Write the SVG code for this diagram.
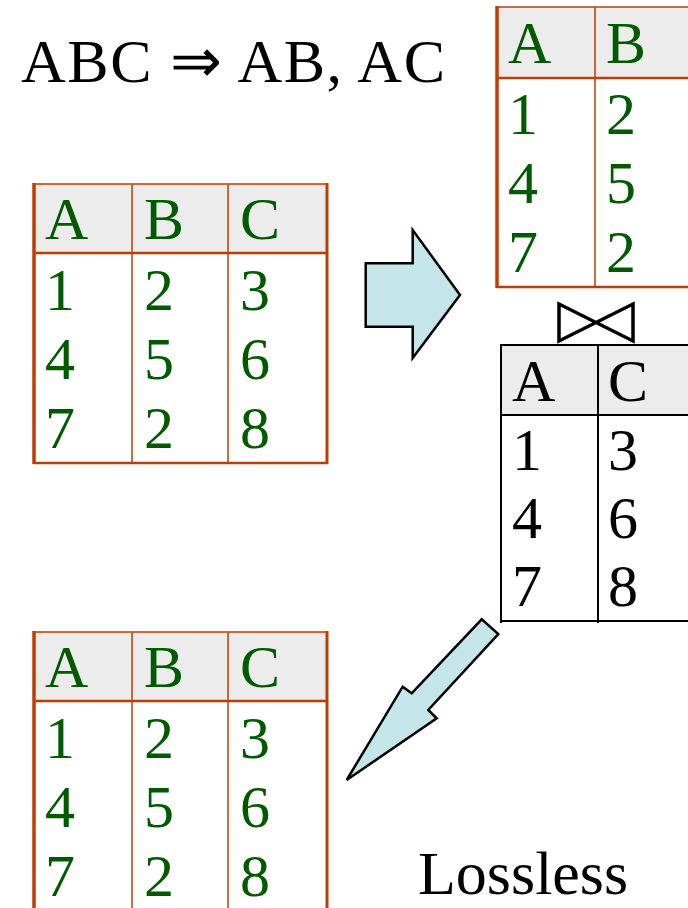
<svg xmlns="http://www.w3.org/2000/svg" width="688" height="908" viewBox="0 0 688 908">
<style>
  .t { font-family: "Liberation Serif", "Times New Roman", serif; }
  .g { fill: #005a00; font-size: 60px; }
  .k { fill: #000000; font-size: 60px; }
  .big { fill: #000000; font-size: 62px; }
  .hdr { fill: #ececec; stroke: none; }
  .ob { stroke: #c03c00; fill: none; }
  .bl { stroke: #000000; fill: none; }
  .arrow { fill: #c4e6e8; stroke: #000000; stroke-width: 2.5; stroke-linejoin: miter; }
</style>
<rect width="688" height="908" fill="#ffffff"/>

<g id="title">
  <text class="t big" x="21" y="82" textLength="424" lengthAdjust="spacing">ABC ⇒ AB, AC</text>
</g>

<g id="table-abc">
  <rect class="hdr" x="34" y="184" width="294" height="69"/>
  <line class="ob" x1="34" y1="184" x2="328" y2="184" stroke-width="1.5"/>
  <line class="ob" x1="34" y1="253" x2="328" y2="253" stroke-width="2.5"/>
  <line class="ob" x1="34" y1="463" x2="328" y2="463" stroke-width="2.5"/>
  <line class="ob" x1="34" y1="183" x2="34" y2="464" stroke-width="3.5"/>
  <line class="ob" x1="327" y1="183" x2="327" y2="464" stroke-width="3"/>
  <line class="ob" x1="132" y1="184" x2="132" y2="463" stroke-width="1.5"/>
  <line class="ob" x1="228" y1="184" x2="228" y2="463" stroke-width="1.5"/>
  <text class="t g" x="45" y="239">A</text>
  <text class="t g" x="144" y="239">B</text>
  <text class="t g" x="240" y="239">C</text>
  <text class="t g" x="45" y="310">1</text>
  <text class="t g" x="144" y="310">2</text>
  <text class="t g" x="240" y="310">3</text>
  <text class="t g" x="45" y="379">4</text>
  <text class="t g" x="144" y="379">5</text>
  <text class="t g" x="240" y="379">6</text>
  <text class="t g" x="45" y="448">7</text>
  <text class="t g" x="144" y="448">2</text>
  <text class="t g" x="240" y="448">8</text>
</g>

<g id="table-ab">
  <rect class="hdr" x="497" y="7" width="191" height="71"/>
  <line class="ob" x1="497" y1="7" x2="688" y2="7" stroke-width="1.5"/>
  <line class="ob" x1="497" y1="78" x2="688" y2="78" stroke-width="2.5"/>
  <line class="ob" x1="497" y1="287" x2="688" y2="287" stroke-width="2.5"/>
  <line class="ob" x1="497" y1="6" x2="497" y2="288" stroke-width="3.5"/>
  <line class="ob" x1="595" y1="7" x2="595" y2="287" stroke-width="1.5"/>
  <text class="t g" x="508" y="63">A</text>
  <text class="t g" x="606" y="63">B</text>
  <text class="t g" x="508" y="134">1</text>
  <text class="t g" x="606" y="134">2</text>
  <text class="t g" x="508" y="203">4</text>
  <text class="t g" x="606" y="203">5</text>
  <text class="t g" x="508" y="272">7</text>
  <text class="t g" x="606" y="272">2</text>
</g>

<g id="join">
  <path d="M559,304 L633,341 L633,304 L559,341 Z" fill="none" stroke="#000000" stroke-width="3.5" stroke-linejoin="miter"/>
</g>

<g id="table-ac">
  <rect class="hdr" x="501" y="345" width="187" height="70"/>
  <line class="bl" x1="501" y1="345" x2="688" y2="345" stroke-width="2"/>
  <line class="bl" x1="501" y1="415" x2="688" y2="415" stroke-width="2"/>
  <line class="bl" x1="501" y1="621" x2="688" y2="621" stroke-width="2"/>
  <line class="bl" x1="501" y1="344" x2="501" y2="623" stroke-width="2"/>
  <line class="bl" x1="598" y1="345" x2="598" y2="623" stroke-width="2"/>
  <text class="t k" x="512" y="401">A</text>
  <text class="t k" x="608" y="401">C</text>
  <text class="t k" x="512" y="470">1</text>
  <text class="t k" x="608" y="470">3</text>
  <text class="t k" x="512" y="538">4</text>
  <text class="t k" x="608" y="538">6</text>
  <text class="t k" x="512" y="606">7</text>
  <text class="t k" x="608" y="606">8</text>
</g>

<g id="table-result" transform="translate(0,448)">
  <rect class="hdr" x="34" y="184" width="294" height="69"/>
  <line class="ob" x1="34" y1="184" x2="328" y2="184" stroke-width="1.5"/>
  <line class="ob" x1="34" y1="253" x2="328" y2="253" stroke-width="2.5"/>
  <line class="ob" x1="34" y1="183" x2="34" y2="470" stroke-width="3.5"/>
  <line class="ob" x1="327" y1="183" x2="327" y2="470" stroke-width="3"/>
  <line class="ob" x1="132" y1="184" x2="132" y2="470" stroke-width="1.5"/>
  <line class="ob" x1="228" y1="184" x2="228" y2="470" stroke-width="1.5"/>
  <text class="t g" x="45" y="239">A</text>
  <text class="t g" x="144" y="239">B</text>
  <text class="t g" x="240" y="239">C</text>
  <text class="t g" x="45" y="310">1</text>
  <text class="t g" x="144" y="310">2</text>
  <text class="t g" x="240" y="310">3</text>
  <text class="t g" x="45" y="379">4</text>
  <text class="t g" x="144" y="379">5</text>
  <text class="t g" x="240" y="379">6</text>
  <text class="t g" x="45" y="448">7</text>
  <text class="t g" x="144" y="448">2</text>
  <text class="t g" x="240" y="448">8</text>
</g>

<g id="connectors">
  <polygon class="arrow" points="365.7,263.3 412.7,263.3 412.7,230 460,295 412.7,358 412.7,326.7 365.7,326.7"/>
  <polygon class="arrow" points="481.7,619.3 498.3,634 428.3,710 436.7,718.3 346.7,780 402.7,686.7 411.7,693.3"/>
</g>

<g id="label">
  <text class="t big" x="418" y="894">Lossless</text>
</g>
</svg>
